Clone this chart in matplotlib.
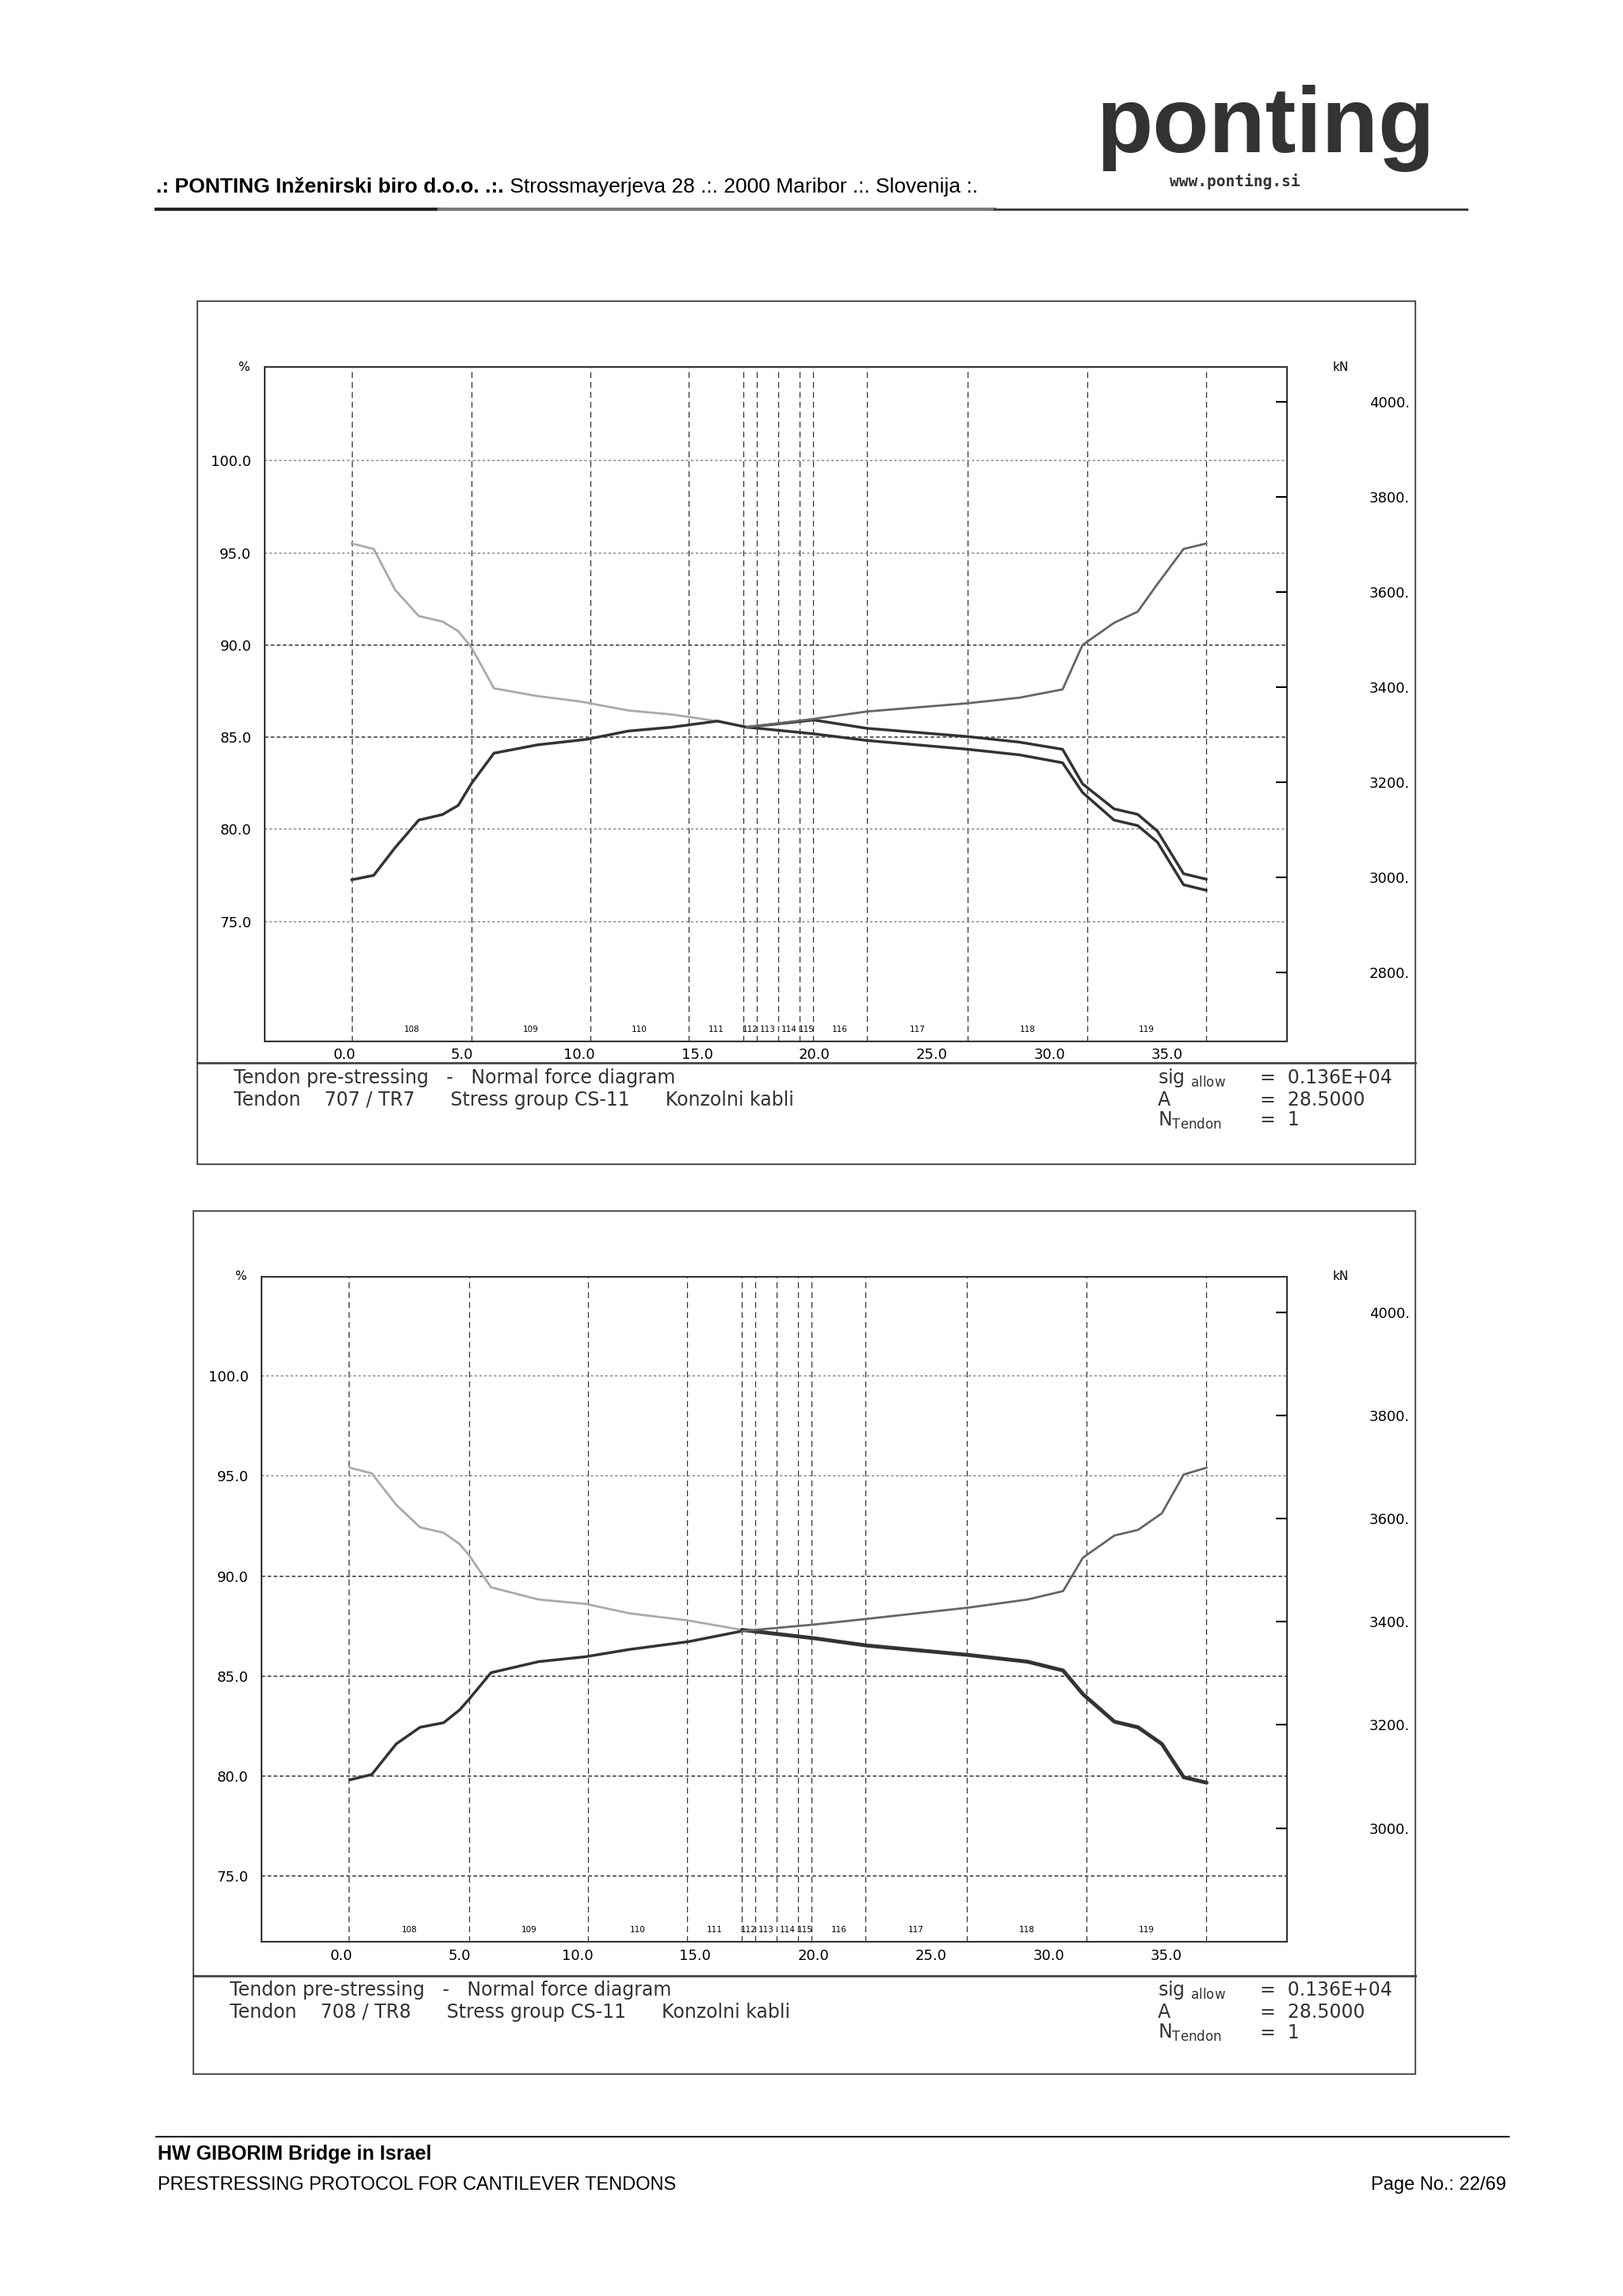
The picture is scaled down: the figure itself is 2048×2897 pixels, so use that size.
import numpy as np
import matplotlib.pyplot as plt
from matplotlib.lines import Line2D

KN_PER_PCT = 38.76  # 100 % = 0.136E+04 * 28.5 = 3876 kN

# section borders (m) and section names
borders = [0.30, 5.41, 10.46, 14.66, 16.98, 17.55, 18.46, 19.37, 19.94, 22.23, 26.53, 31.6, 36.68]
sections = ['108', '109', '110', '111', '112', '113', '114', '115', '116', '117', '118', '119']
xticks = [0.0, 5.0, 10.0, 15.0, 20.0, 25.0, 30.0, 35.0]

# --- Tendon 707 / TR7 ---
t1_gray_left_x = [0.30, 1.24, 2.15, 3.16, 4.17, 4.84, 5.41, 6.36, 8.20, 10.05, 12.07, 13.92, 15.87, 17.12]
t1_gray_left_y = [95.51, 95.21, 93.0, 91.57, 91.27, 90.75, 89.85, 87.65, 87.23, 86.93, 86.45, 86.23, 85.87, 85.54]
t1_dark_left_x = [0.30, 1.24, 2.15, 3.16, 4.17, 4.84, 5.41, 6.36, 8.20, 10.30, 12.07, 13.92, 15.87, 17.12]
t1_dark_left_y = [77.26, 77.5, 79.0, 80.5, 80.8, 81.3, 82.5, 84.13, 84.58, 84.88, 85.33, 85.54, 85.87, 85.54]
t1_right_x = [17.12, 19.97, 22.23, 26.53, 28.72, 30.56, 31.41, 32.75, 33.76, 34.6, 35.71, 36.68]
t1_upper_y = [85.54, 85.93, 85.48, 85.03, 84.73, 84.34, 82.47, 81.11, 80.81, 79.9, 77.59, 77.29]
t1_lower_y = [85.54, 85.18, 84.82, 84.34, 84.04, 83.61, 82.0, 80.5, 80.2, 79.3, 76.99, 76.69]
t1_gray_right_y = [85.54, 85.99, 86.39, 86.84, 87.14, 87.59, 90.0, 91.2, 91.81, 93.31, 95.21, 95.51]

# --- Tendon 708 / TR8 ---
t2_left_x = [0.33, 1.27, 2.31, 3.32, 4.32, 4.99, 5.39, 6.33, 8.34, 10.35, 12.19, 14.70, 16.98]
t2_gray_left_y = [95.42, 95.14, 93.56, 92.44, 92.17, 91.61, 91.06, 89.44, 88.83, 88.61, 88.14, 87.78, 87.31]
t2_dark_left_y = [79.81, 80.08, 81.61, 82.44, 82.67, 83.3, 83.83, 85.17, 85.72, 85.97, 86.33, 86.72, 87.25]
t2_right_x = [16.98, 20.06, 22.27, 26.56, 29.10, 30.61, 31.45, 32.79, 33.79, 34.8, 35.73, 36.7]
t2_dark_right_y = [87.31, 86.89, 86.53, 86.06, 85.72, 85.28, 84.1, 82.72, 82.44, 81.61, 79.94, 79.67]
t2_gray_right_y = [87.25, 87.58, 87.86, 88.42, 88.83, 89.25, 90.92, 92.03, 92.31, 93.14, 95.08, 95.42]

pct_ticks = [75.0, 80.0, 85.0, 90.0, 95.0, 100.0]

W, H = 2048, 2897
fig = plt.figure(figsize=(W / 100, H / 100), dpi=100)
cad = 'DejaVu Sans'


def fx(px):
    return px / 1110


def fy(py):
    return 1 - py / 1570


def chart(frame, sep_y, axbox, ylim, dark_levels, kn_ticks, lines, tendon):
    # outer frame
    x0, y0, x1, y1 = frame
    fig.add_artist(plt.Rectangle((fx(x0), fy(y1)), fx(x1) - fx(x0), fy(y0) - fy(y1),
                                 transform=fig.transFigure, fill=False, ec='#555555', lw=1.5))
    fig.add_artist(Line2D([fx(x0), fx(x1)], [fy(sep_y), fy(sep_y)], transform=fig.transFigure,
                          color='#444444', lw=2))
    ax0, ay0, ax1, ay1 = axbox
    ax = fig.add_axes([fx(ax0), fy(ay1), fx(ax1) - fx(ax0), fy(ay0) - fy(ay1)])
    ax.set_xlim(-3.4, 40.1)
    ax.set_ylim(*ylim)
    for s in ax.spines.values():
        s.set_color('#333333')
        s.set_linewidth(1.5)
    for b in borders:
        ax.axvline(b, color='#333333', lw=0.9, ls=(0, (6, 4)))
    for lv in pct_ticks:
        if lv in dark_levels:
            ax.axhline(lv, color='#333333', lw=1.1, ls=(0, (3, 2)))
        else:
            ax.axhline(lv, color='#888888', lw=1.1, ls=(0, (2, 2)))
    for i, name in enumerate(sections):
        ax.text((borders[i] + borders[i + 1]) / 2, ylim[0] + 0.4, name, ha='center', va='bottom',
                fontsize=7.5, family=cad)
    for xs, ys, col, lw in lines:
        ax.plot(xs, ys, color=col, lw=lw, solid_capstyle='round')
    ax.set_xticks(xticks)
    ax.set_xticklabels([f'{v:.1f}' for v in xticks], family=cad, fontsize=13)
    ax.set_yticks(pct_ticks)
    ax.set_yticklabels([f'{v:.1f}' for v in pct_ticks], family=cad, fontsize=13)
    ax.tick_params(axis='x', length=0, pad=6)
    ax.tick_params(axis='y', length=0, pad=12)
    ax.text(-0.015, 1.0, '%', transform=ax.transAxes, ha='right', va='center', fontsize=11, family=cad)
    ax.text(1.045, 1.0, 'kN', transform=ax.transAxes, ha='left', va='center', fontsize=11, family=cad)
    ax2 = ax.twinx()
    ax2.set_ylim(ylim[0] * KN_PER_PCT, ylim[1] * KN_PER_PCT)
    ax2.set_yticks(kn_ticks)
    ax2.set_yticklabels([f'{v}.' for v in kn_ticks], family=cad, fontsize=13)
    ax2.tick_params(axis='y', direction='in', length=10, width=1.5, pad=75)
    for s in ax2.spines.values():
        s.set_visible(False)

    # info block
    ty1 = sep_y + 10
    ty2 = sep_y + 25
    kw = dict(transform=fig.transFigure, family=cad, fontsize=17, va='center', color='#333333')
    fig.text(fx(frame[0] + 25), fy(ty1), 'Tendon pre-stressing   -   Normal force diagram', **kw)
    fig.text(fx(frame[0] + 25), fy(ty2), f'Tendon    {tendon}      Stress group CS-11      Konzolni kabli', **kw)
    fig.text(fx(792), fy(ty1), r'sig $_{\mathrm{allow}}$', **kw)
    fig.text(fx(792), fy(ty2), 'A', **kw)
    fig.text(fx(792), fy(ty2 + 14), r'N$_{\mathrm{Tendon}}$', **kw)
    fig.text(fx(862), fy(ty1), '=  0.136E+04', **kw)
    fig.text(fx(862), fy(ty2), '=  28.5000', **kw)
    fig.text(fx(862), fy(ty2 + 14), '=  1', **kw)


chart((135, 206, 968, 796), 727, (181, 251, 880, 712), (68.5, 105.08), [90.0, 85.0],
      [2800, 3000, 3200, 3400, 3600, 3800, 4000],
      [(t1_gray_left_x, t1_gray_left_y, '#aaaaaa', 2),
       (t1_dark_left_x, t1_dark_left_y, '#333333', 2.5),
       (t1_right_x, t1_upper_y, '#333333', 2.5),
       (t1_right_x, t1_lower_y, '#333333', 2.5),
       (t1_right_x, t1_gray_right_y, '#666666', 2)], '707 / TR7')

chart((132, 828, 968, 1418), 1351, (179, 873, 880, 1328), (71.7, 104.97), [90.0, 85.0, 80.0, 75.0],
      [3000, 3200, 3400, 3600, 3800, 4000],
      [(t2_left_x, t2_gray_left_y, '#aaaaaa', 2),
       (t2_left_x, t2_dark_left_y, '#333333', 2.5),
       (t2_right_x, t2_dark_right_y, '#333333', 3.5),
       (t2_right_x, t2_gray_right_y, '#666666', 2)], '708 / TR8')

# page header
hb = fig.text(fx(107), fy(128), '.: PONTING Inženirski biro d.o.o. .:.', fontsize=19, weight='bold',
              family='Liberation Sans', va='center')
fig.canvas.draw()
bb = hb.get_window_extent(fig.canvas.get_renderer())
fig.text(bb.x1 / W, fy(128), ' Strossmayerjeva 28 .:. 2000 Maribor .:. Slovenija :.',
         fontsize=19, family='Liberation Sans', va='center')
fig.text(fx(750), fy(88), 'ponting', fontsize=84, weight='bold', family='Liberation Sans',
         va='center', ha='left', color='#333333')
fig.text(fx(800), fy(124), 'www.ponting.si', fontsize=14, weight='bold', family='DejaVu Sans Mono',
         va='center', color='#333333')
fig.add_artist(Line2D([fx(107), fx(300)], [fy(143), fy(143)], transform=fig.transFigure, color='#222222', lw=3))
fig.add_artist(Line2D([fx(300), fx(680)], [fy(143), fy(143)], transform=fig.transFigure, color='#777777', lw=3))
fig.add_artist(Line2D([fx(680), fx(1003)], [fy(143), fy(143)], transform=fig.transFigure, color='#333333', lw=2))

# page footer
fig.add_artist(Line2D([fx(107), fx(1032)], [fy(1461), fy(1461)], transform=fig.transFigure, color='#222222', lw=1.5))
fig.text(fx(108), fy(1473), 'HW GIBORIM Bridge in Israel', fontsize=18, weight='bold',
         family='Liberation Sans', va='center')
fig.text(fx(108), fy(1494), 'PRESTRESSING PROTOCOL FOR CANTILEVER TENDONS', fontsize=17,
         family='Liberation Sans', va='center')
fig.text(fx(1030), fy(1494), 'Page No.: 22/69', fontsize=17, family='Liberation Sans',
         va='center', ha='right')

fig.savefig('out.png', dpi=100)
